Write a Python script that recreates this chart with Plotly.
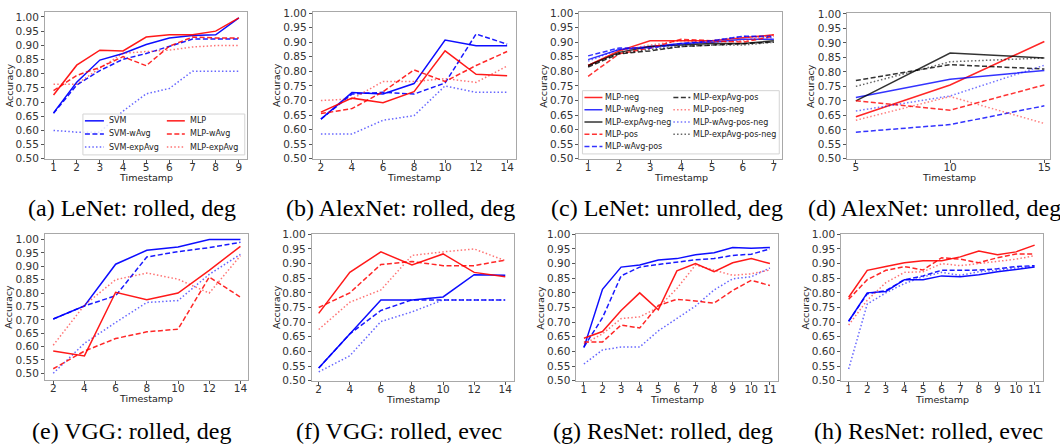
import plotly.graph_objects as go

W, H = 1060, 448

# ---------------- data ----------------
# (a) LeNet: rolled, deg
a_t = [1, 2, 3, 4, 5, 6, 7, 8, 9]
a_svm        = [0.662, 0.770, 0.848, 0.871, 0.903, 0.926, 0.935, 0.937, 0.997]
a_svm_wavg   = [0.660, 0.760, 0.811, 0.851, 0.871, 0.897, 0.922, 0.922, 0.922]
a_svm_expavg = [0.600, 0.594, 0.594, 0.668, 0.729, 0.748, 0.809, 0.809, 0.809]
a_mlp        = [0.725, 0.830, 0.883, 0.880, 0.929, 0.937, 0.937, 0.950, 0.997]
a_mlp_wavg   = [0.740, 0.794, 0.822, 0.860, 0.828, 0.897, 0.929, 0.926, 0.926]
a_mlp_expavg = [0.763, 0.763, 0.820, 0.872, 0.878, 0.883, 0.894, 0.899, 0.899]

# (b) AlexNet: rolled, deg
b_t = [2, 4, 6, 8, 10, 12, 14]
b_svm        = [0.636, 0.727, 0.722, 0.758, 0.907, 0.888, 0.888]
b_svm_wavg   = [0.636, 0.722, 0.728, 0.722, 0.760, 0.928, 0.893]
b_svm_expavg = [0.585, 0.585, 0.632, 0.648, 0.750, 0.728, 0.728]
b_mlp        = [0.660, 0.708, 0.692, 0.730, 0.870, 0.790, 0.785]
b_mlp_wavg   = [0.655, 0.672, 0.730, 0.805, 0.765, 0.820, 0.868]
b_mlp_expavg = [0.700, 0.705, 0.765, 0.765, 0.775, 0.762, 0.818]

# (c) LeNet: unrolled, deg
c_t = [1, 2, 3, 4, 5, 6, 7]
c_neg             = [0.820, 0.870, 0.905, 0.905, 0.905, 0.915, 0.925]
c_wavg_neg        = [0.840, 0.875, 0.885, 0.895, 0.900, 0.910, 0.910]
c_expavg_neg      = [0.820, 0.865, 0.885, 0.890, 0.895, 0.895, 0.905]
c_pos             = [0.783, 0.860, 0.880, 0.910, 0.905, 0.900, 0.920]
c_wavg_pos        = [0.853, 0.880, 0.880, 0.895, 0.905, 0.920, 0.920]
c_expavg_pos      = [0.815, 0.860, 0.870, 0.885, 0.890, 0.895, 0.900]
c_pos_neg         = [0.820, 0.870, 0.890, 0.905, 0.900, 0.905, 0.925]
c_wavg_pos_neg    = [0.835, 0.875, 0.880, 0.890, 0.905, 0.920, 0.915]
c_expavg_pos_neg  = [0.818, 0.862, 0.875, 0.885, 0.890, 0.890, 0.900]

# (d) AlexNet: unrolled, deg
d_t = [5, 10, 15]
d_neg             = [0.645, 0.755, 0.905]
d_wavg_neg        = [0.712, 0.775, 0.805]
d_expavg_neg      = [0.700, 0.865, 0.848]
d_pos             = [0.700, 0.668, 0.755]
d_wavg_pos        = [0.592, 0.618, 0.683]
d_expavg_pos      = [0.770, 0.825, 0.810]
d_pos_neg         = [0.633, 0.715, 0.622]
d_wavg_pos_neg    = [0.665, 0.717, 0.823]
d_expavg_pos_neg  = [0.750, 0.835, 0.848]

# (e) VGG: rolled, deg
e_t = [2, 4, 6, 8, 10, 12, 14]
e_svm        = [0.703, 0.752, 0.908, 0.960, 0.972, 1.000, 1.000]
e_svm_wavg   = [0.703, 0.752, 0.790, 0.935, 0.955, 0.970, 0.990]
e_svm_expavg = [0.500, 0.612, 0.690, 0.765, 0.772, 0.870, 0.945]
e_mlp        = [0.583, 0.565, 0.803, 0.775, 0.800, 0.885, 0.975]
e_mlp_wavg   = [0.517, 0.583, 0.630, 0.655, 0.665, 0.860, 0.785]
e_mlp_expavg = [0.605, 0.755, 0.850, 0.875, 0.852, 0.800, 0.940]

# (f) VGG: rolled, evec
f_t = [2, 4, 6, 8, 10, 12, 14]
f_svm        = [0.543, 0.660, 0.776, 0.776, 0.786, 0.862, 0.860]
f_svm_wavg   = [0.543, 0.660, 0.740, 0.776, 0.776, 0.776, 0.776]
f_svm_expavg = [0.530, 0.585, 0.702, 0.735, 0.776, 0.776, 0.776]
f_mlp        = [0.730, 0.870, 0.940, 0.895, 0.933, 0.870, 0.855]
f_mlp_wavg   = [0.750, 0.800, 0.897, 0.907, 0.893, 0.893, 0.912]
f_mlp_expavg = [0.675, 0.768, 0.810, 0.928, 0.940, 0.950, 0.910]

# (g) ResNet: rolled, deg
g_t = [1, 2, 3, 4, 5, 6, 7, 8, 9, 10, 11]
g_svm        = [0.613, 0.812, 0.888, 0.895, 0.912, 0.917, 0.930, 0.937, 0.955, 0.952, 0.955]
g_svm_wavg   = [0.615, 0.715, 0.858, 0.888, 0.897, 0.905, 0.913, 0.917, 0.928, 0.932, 0.950]
g_svm_expavg = [0.557, 0.605, 0.615, 0.615, 0.670, 0.712, 0.755, 0.810, 0.848, 0.855, 0.885]
g_mlp        = [0.645, 0.668, 0.740, 0.800, 0.742, 0.875, 0.900, 0.872, 0.903, 0.917, 0.900]
g_mlp_wavg   = [0.632, 0.632, 0.690, 0.680, 0.757, 0.778, 0.772, 0.765, 0.808, 0.843, 0.825]
g_mlp_expavg = [0.625, 0.660, 0.712, 0.718, 0.750, 0.815, 0.895, 0.878, 0.860, 0.865, 0.878]

# (h) ResNet: rolled, evec
h_t = [1, 2, 3, 4, 5, 6, 7, 8, 9, 10, 11]
h_svm        = [0.703, 0.800, 0.805, 0.845, 0.845, 0.858, 0.855, 0.862, 0.872, 0.880, 0.888]
h_svm_wavg   = [0.703, 0.797, 0.808, 0.845, 0.858, 0.877, 0.877, 0.878, 0.882, 0.890, 0.893]
h_svm_expavg = [0.540, 0.762, 0.800, 0.832, 0.855, 0.870, 0.860, 0.872, 0.877, 0.885, 0.890]
h_mlp        = [0.785, 0.877, 0.890, 0.903, 0.910, 0.910, 0.923, 0.943, 0.930, 0.940, 0.963]
h_mlp_wavg   = [0.778, 0.845, 0.877, 0.890, 0.878, 0.920, 0.915, 0.903, 0.920, 0.933, 0.933]
h_mlp_expavg = [0.690, 0.775, 0.835, 0.870, 0.872, 0.900, 0.893, 0.900, 0.907, 0.915, 0.927]

rolled_names = ["SVM", "SVM-wAvg", "SVM-expAvg", "MLP", "MLP-wAvg", "MLP-expAvg"]
unrolled_names = ["MLP-neg", "MLP-wAvg-neg", "MLP-expAvg-neg", "MLP-pos", "MLP-wAvg-pos",
                  "MLP-expAvg-pos", "MLP-pos-neg", "MLP-wAvg-pos-neg", "MLP-expAvg-pos-neg"]

captions = ["(a) LeNet: rolled, deg", "(b) AlexNet: rolled, deg", "(c) LeNet: unrolled, deg",
            "(d) AlexNet: unrolled, deg", "(e) VGG: rolled, deg", "(f) VGG: rolled, evec",
            "(g) ResNet: rolled, deg", "(h) ResNet: rolled, evec"]

a_ticks = [1, 2, 3, 4, 5, 6, 7, 8, 9]
b_ticks = [2, 4, 6, 8, 10, 12, 14]
c_ticks = [1, 2, 3, 4, 5, 6, 7]
d_ticks = [5, 10, 15]
g_ticks = [1, 2, 3, 4, 5, 6, 7, 8, 9, 10, 11]
y_ticks = [0.50, 0.55, 0.60, 0.65, 0.70, 0.75, 0.80, 0.85, 0.90, 0.95, 1.00]

# ---------------- styles ----------------
RED, BLUE, BLACK = "255,0,0", "0,0,255", "0,0,0"
DASH = {"solid": "solid", "dash": "5px,2.5px", "dot": "1.5px,2.2px"}

rolled_style = {
    "SVM": (BLUE, "solid", 0.95), "SVM-wAvg": (BLUE, "dash", 0.9), "SVM-expAvg": (BLUE, "dot", 0.6),
    "MLP": (RED, "solid", 0.9), "MLP-wAvg": (RED, "dash", 0.85), "MLP-expAvg": (RED, "dot", 0.55),
}
unrolled_style = {
    "MLP-neg": (RED, "solid", 0.85), "MLP-wAvg-neg": (BLUE, "solid", 0.8),
    "MLP-expAvg-neg": (BLACK, "solid", 0.8), "MLP-pos": (RED, "dash", 0.8),
    "MLP-wAvg-pos": (BLUE, "dash", 0.8), "MLP-expAvg-pos": (BLACK, "dash", 0.8),
    "MLP-pos-neg": (RED, "dot", 0.5), "MLP-wAvg-pos-neg": (BLUE, "dot", 0.55),
    "MLP-expAvg-pos-neg": (BLACK, "dot", 0.6),
}

panels = [
    dict(t=a_t, ys=[a_svm, a_svm_wavg, a_svm_expavg, a_mlp, a_mlp_wavg, a_mlp_expavg], names=rolled_names,
         st=rolled_style, ticks=a_ticks, frame=(45, 6, 247, 157), xr=[0.63, 9.34], yr=[0.5, 1.018]),
    dict(t=b_t, ys=[b_svm, b_svm_wavg, b_svm_expavg, b_mlp, b_mlp_wavg, b_mlp_expavg], names=rolled_names,
         st=rolled_style, ticks=b_ticks, frame=(313, 6, 516, 157), xr=[1.47, 14.54], yr=[0.5, 1.004]),
    dict(t=c_t, ys=[c_neg, c_wavg_neg, c_expavg_neg, c_pos, c_wavg_pos, c_expavg_pos, c_pos_neg,
                    c_wavg_pos_neg, c_expavg_pos_neg], names=unrolled_names,
         st=unrolled_style, ticks=c_ticks, frame=(580, 6, 783, 157), xr=[0.72, 7.27], yr=[0.5, 1.004]),
    dict(t=d_t, ys=[d_neg, d_wavg_neg, d_expavg_neg, d_pos, d_wavg_pos, d_expavg_pos, d_pos_neg,
                    d_wavg_pos_neg, d_expavg_pos_neg], names=unrolled_names,
         st=unrolled_style, ticks=d_ticks, frame=(848, 7, 1051, 157), xr=[4.54, 15.3], yr=[0.5, 1.004]),
    dict(t=e_t, ys=[e_svm, e_svm_wavg, e_svm_expavg, e_mlp, e_mlp_wavg, e_mlp_expavg], names=rolled_names,
         st=rolled_style, ticks=b_ticks, frame=(45, 234, 248, 384), xr=[1.47, 14.47], yr=[0.476, 1.022]),
    dict(t=f_t, ys=[f_svm, f_svm_wavg, f_svm_expavg, f_mlp, f_mlp_wavg, f_mlp_expavg], names=rolled_names,
         st=rolled_style, ticks=b_ticks, frame=(312, 234, 514, 385), xr=[1.55, 14.53], yr=[0.5, 1.002]),
    dict(t=g_t, ys=[g_svm, g_svm_wavg, g_svm_expavg, g_mlp, g_mlp_wavg, g_mlp_expavg], names=rolled_names,
         st=rolled_style, ticks=g_ticks, frame=(577, 234, 779, 385), xr=[0.6, 11.45], yr=[0.5, 1.002]),
    dict(t=h_t, ys=[h_svm, h_svm_wavg, h_svm_expavg, h_mlp, h_mlp_wavg, h_mlp_expavg], names=rolled_names,
         st=rolled_style, ticks=g_ticks, frame=(842, 234, 1044, 385), xr=[0.6, 11.45], yr=[0.5, 1.002]),
]


def px(x):
    return x / W


def py(y):
    return 1 - y / H


fig = go.Figure()
layout = dict(width=W, height=H, margin=dict(l=0, r=0, t=0, b=0), autosize=False,
              paper_bgcolor="white", plot_bgcolor="white", showlegend=False)
annotations = []
shapes = []

TICKFONT = dict(family="DejaVu Sans", size=10.5, color="#333333")
LABELFONT = dict(family="DejaVu Sans", size=9.5, color="#222222")

for i, p in enumerate(panels):
    n = i + 1
    xa = "x" if n == 1 else f"x{n}"
    ya = "y" if n == 1 else f"y{n}"
    l, t, r, b = p["frame"]
    for name, yv in zip(p["names"], p["ys"]):
        col, dash, op = p["st"][name]
        fig.add_trace(go.Scatter(x=p["t"], y=yv, mode="lines", name=name, xaxis=xa, yaxis=ya,
                                 line=dict(color=f"rgba({col},{op})", width=1.5, dash=DASH[dash]),
                                 hoverinfo="skip"))
    common = dict(showgrid=False, zeroline=False, showline=True, mirror=True, linecolor="#a8a8a8",
                  linewidth=1, ticks="outside", ticklen=3, tickcolor="#555555", tickwidth=0.8,
                  tickfont=TICKFONT)
    layout["xaxis" if n == 1 else f"xaxis{n}"] = dict(
        domain=[px(l), px(r)], range=p["xr"], anchor=ya, tickmode="array", tickvals=p["ticks"],
        ticktext=[str(v) for v in p["ticks"]], ticklabelstandoff=-4, **common)
    layout["yaxis" if n == 1 else f"yaxis{n}"] = dict(
        domain=[py(b), py(t)], range=p["yr"], anchor=xa, tickmode="array", tickvals=y_ticks,
        ticktext=[f"{v:.2f}" for v in y_ticks], **common)
    # axis titles
    annotations.append(dict(text="Accuracy", x=px(l - 36), y=py((t + b) / 2), xref="paper", yref="paper",
                            showarrow=False, textangle=-90, font=LABELFONT, xanchor="center", yanchor="middle"))
    annotations.append(dict(text="Timestamp", x=px((l + r) / 2), y=py(b + 19), xref="paper", yref="paper",
                            showarrow=False, font=LABELFONT, xanchor="center", yanchor="middle"))
    # caption
    cy = 208 if t < 100 else 437
    annotations.append(dict(text=captions[i], x=px((l + r) / 2 - 14), y=py(cy), xref="paper", yref="paper",
                            showarrow=False, font=dict(family="Liberation Serif", size=24, color="black"),
                            xanchor="center", yanchor="middle"))


def draw_legend(box, cols, rows_y, style):
    bl, bt, br, bb = box
    shapes.append(dict(type="rect", xref="paper", yref="paper", x0=px(bl), x1=px(br), y0=py(bb), y1=py(bt),
                       line=dict(color="#d4d4d4", width=1), fillcolor="rgba(255,255,255,0.8)", layer="above"))
    for (lx0, lx1, tx, names) in cols:
        for name, ry in zip(names, rows_y):
            col, dash, op = style[name]
            shapes.append(dict(type="line", xref="paper", yref="paper", x0=px(lx0), x1=px(lx1),
                               y0=py(ry), y1=py(ry), layer="above",
                               line=dict(color=f"rgba({col},{op})", width=1.5, dash=DASH[dash])))
            annotations.append(dict(text=name, x=px(tx), y=py(ry), xref="paper", yref="paper",
                                    showarrow=False, xanchor="left", yanchor="middle",
                                    font=dict(family="DejaVu Sans", size=8, color="#222222")))


draw_legend((83, 111, 245, 153),
            [(85, 104, 107, rolled_names[:3]), (167, 185, 188, rolled_names[3:])],
            [118, 131.5, 145], rolled_style)
draw_legend((583, 87, 780, 152),
            [(585, 603, 603.5, unrolled_names[:5]), (674, 691, 691.5, unrolled_names[5:])],
            [94, 106.6, 119.2, 131.8, 144.4], unrolled_style)

layout["annotations"] = annotations
layout["shapes"] = shapes
fig.update_layout(**layout)
fig.write_html("out.html")
